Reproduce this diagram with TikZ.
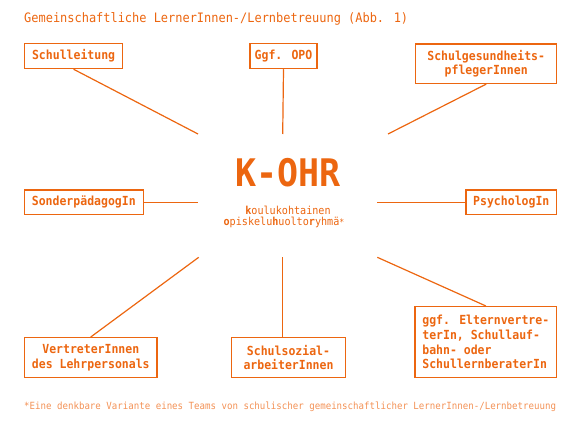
\documentclass[tikz,border=0pt]{standalone}
\usepackage{fontspec}
\setmainfont[FakeStretch=0.92]{DejaVu Sans Mono}
\usetikzlibrary{calc}
\definecolor{korange}{RGB}{236,102,16}
\definecolor{klight}{RGB}{243,145,85}
\tikzset{box/.style={draw=korange,line width=1.5pt,text=korange,inner sep=0pt,align=center,
    font=\bfseries\fontsize{12.5}{14.7}\selectfont}}
\tikzset{link/.style={draw=korange,line width=1.2pt}}

\begin{document}
\begin{tikzpicture}[x=1pt,y=-1pt]
\useasboundingbox (0,0) rectangle (585,422);

% Title
\node[anchor=base west,inner sep=0pt,text=korange,font=\fontsize{13}{15}\selectfont]
   (title) at (24,22.3) {Gemeinschaftliche LernerInnen-/Lernbetreuung (Abb. 1)};

% Center
\node[anchor=base,inner sep=0pt,text=korange,font=\bfseries\fontsize{38}{40}\selectfont]
   (kohr) at (288,186.7) {K-OHR};
\node[anchor=base,inner sep=0pt,text=korange,font=\fontsize{11}{11}\selectfont]
   (koulu) at (288,214.5) {\textbf{k}oulukohtainen};
\node[anchor=base,inner sep=0pt,text=korange,font=\fontsize{11}{11}\selectfont]
   (opis) at (284,225.5) {\textbf{o}piskelu\textbf{h}uolto\textbf{r}yhmä{\fontsize{9}{9}\selectfont*}};

\coordinate (c-nw) at (198,134);
\coordinate (c-n)  at (282.7,134);
\coordinate (c-ne) at (388,134);
\coordinate (c-w)  at (198.3,202.2);
\coordinate (c-e)  at (377.3,202.2);
\coordinate (c-sw) at (198.7,257.3);
\coordinate (c-s)  at (282.7,257.3);
\coordinate (c-se) at (377.3,257.3);

% Boxes
\node[box,minimum width=98pt,minimum height=25pt]    (leitung) at (73.6,56)    {Schulleitung};
\node[box,minimum width=67pt,minimum height=25pt]    (opo)     at (283.5,56)   {Ggf. OPO};
\node[box,minimum width=141pt,minimum height=39.3pt] (pflege)  at (486.2,63.7) {Schulgesundheits-\\pflegerInnen};
\node[box,minimum width=119pt,minimum height=24.3pt] (sonder)  at (83.8,202.2) {SonderpädagogIn};
\node[box,minimum width=90.7pt,minimum height=24.3pt](psycho)  at (511.3,202.2){PsychologIn};
\node[box,minimum width=132.3pt,minimum height=39.6pt](lehrer) at (90.8,357.5) {VertreterInnen\\des Lehrpersonals};
\node[box,minimum width=114pt,minimum height=39.6pt] (sozial)  at (288.5,357.5){Schulsozial-\\arbeiterInnen};
\node[box,align=left,minimum width=141.7pt,minimum height=70.6pt] (eltern) at (485.8,342)
   {ggf. Elternvertre-\\terIn, Schullauf-\\bahn- oder\\SchullernberaterIn};

% Connectors
\draw[link] (leitung.south) -- (c-nw);
\draw[link] (opo.south) -- (c-n);
\draw[link] (pflege.south) -- (c-ne);
\draw[link] (sonder.east) -- (c-w);
\draw[link] (psycho.west) -- (c-e);
\draw[link] (lehrer.north) -- (c-sw);
\draw[link] (c-s) -- (c-s |- sozial.north);
\draw[link] (eltern.north) -- (c-se);

% Footnote
\node[anchor=base west,inner sep=0pt,text=klight,font=\fontsize{9.9}{12}\selectfont]
   (note) at (24,409.5) {*Eine denkbare Variante eines Teams von schulischer gemeinschaftlicher LernerInnen-/Lernbetreuung};
\end{tikzpicture}
\end{document}
